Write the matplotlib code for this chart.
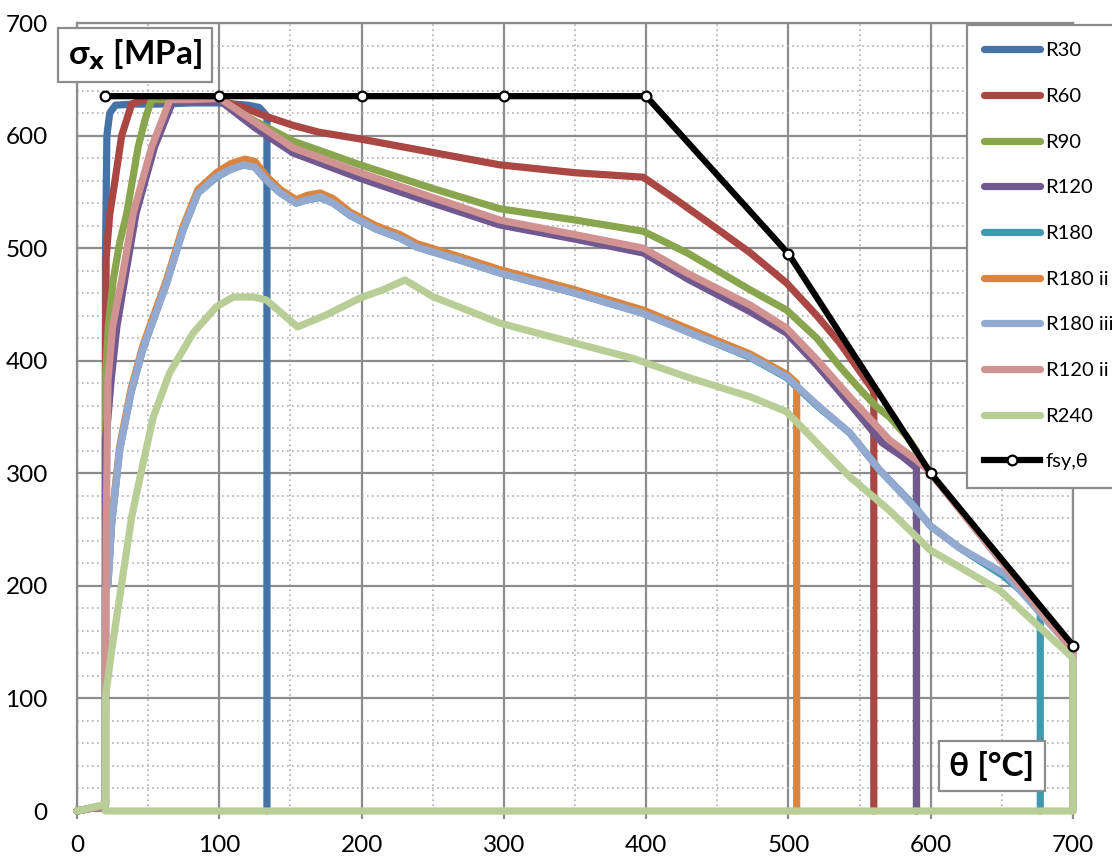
import numpy as np
import matplotlib
matplotlib.use('Agg')
import matplotlib.pyplot as plt
from matplotlib.ticker import MultipleLocator

plt.rcParams['font.family'] = ['Lato', 'DejaVu Sans']
plt.rcParams['mathtext.fontset'] = 'dejavusans'

# temperature [°C] / stress [MPa]
t_r30 = [0, 20, 20, 20, 21, 23, 27, 40, 60, 80, 100, 120, 128, 131, 133.5, 133.5]
s_r30 = [0, 5, 200, 490, 600, 620, 627, 628, 628, 629, 629, 627, 625, 621, 617, 0]

t_r60 = [0, 20, 20, 20.5, 23, 26.7, 31.4, 38.4, 45, 60, 80, 100.5, 115, 133, 152, 170, 199,
         250, 297, 350, 398, 420, 450, 473, 498.7, 520, 536, 559.4, 560, 560]
s_r60 = [0, 5, 420, 492, 530, 560, 600, 628, 631, 631, 631, 631, 626, 617, 609, 603, 597,
         585, 574, 567, 563, 544, 517, 496, 469, 440, 416, 374, 372, 0]

t_r90 = [0, 20, 20, 22, 25.5, 30, 35, 43, 48, 52.5, 70, 100, 125, 152, 199, 250, 297, 350,
         398, 430, 473, 498.7, 520, 536, 550, 562, 571, 583, 590, 590]
s_r90 = [0, 5, 385, 430, 472, 505, 531, 590, 615, 632, 632, 632, 613, 595, 574, 553, 535, 525,
         515, 495, 463, 445, 420, 395, 375, 359, 350, 333, 320, 0]

t_r120 = [0, 20, 20, 21.8, 24, 28, 33.5, 41.5, 54.5, 67.5, 80, 100.5, 125, 152, 199, 250, 297,
          350, 398, 430, 473, 498.7, 520, 543, 566, 580, 590, 590]
s_r120 = [0, 5, 330, 350, 383, 430, 472, 531, 590, 631, 631, 631, 607, 584.5, 562, 540, 520.6,
          508, 495.7, 472, 443.6, 424.6, 396, 362, 327, 315, 304.7, 0]

t_r180 = [0, 20, 20, 21.8, 24.4, 30, 38, 46, 51, 63, 74.5, 85, 98, 108, 117, 125, 133, 143, 154,
          162, 171, 180, 192, 210, 227, 238.7, 270, 297, 350, 398, 440, 473, 498.7, 520, 543,
          564, 587, 600, 620, 651, 665, 677, 677]
s_r180 = [0, 5, 196, 202, 256, 321, 372, 409, 427, 469, 516, 549, 563, 570, 574, 572, 560, 549,
          540, 543, 545, 540, 529, 517, 509, 501, 489, 478, 460, 442, 420, 403, 385, 360, 336,
          303, 273, 253, 234, 209, 194, 176, 0]

t_r180ii = [0, 20, 20, 21.8, 24.4, 30, 38, 46, 51, 63, 74.5, 85, 98, 108, 118, 125, 133, 143,
            154, 162, 171, 180, 192, 210, 227, 238.7, 270, 297, 350, 398, 440, 473, 498.7,
            505.8, 505.8]
s_r180ii = [0, 5, 196, 205, 259, 324, 375, 412, 430, 472, 519, 552, 567, 575, 579, 577, 564, 552,
            543, 547, 549, 544, 532, 520, 512, 504, 492, 481, 463, 445, 423, 406, 388, 380, 0]

t_r180iii = [0, 20, 20, 21.8, 24.4, 30, 38, 46, 51, 63, 74.5, 85, 98, 108, 117, 125, 133, 143,
             154, 162, 171, 180, 192, 210, 227, 238.7, 270, 297, 350, 398, 440, 473, 498.7,
             520, 543, 564, 587, 600, 620, 653, 700, 700]
s_r180iii = [0, 5, 196, 202, 256, 321, 372, 409.5, 427, 469, 516, 549, 563.5, 570, 574, 572,
             560.5, 549, 540, 543, 545.7, 540, 529.5, 517, 509, 501, 489, 478, 460, 442, 420,
             403.6, 385.8, 361, 336, 303, 272, 253, 234, 210, 143, 0]

t_r120ii = [0, 20, 20, 20.5, 21.8, 25, 31.4, 39.5, 52.5, 65.4, 80, 100.5, 125, 152, 199, 250,
            297, 350, 398, 430, 473, 498.7, 520, 543, 571, 590, 598, 650, 700, 700]
s_r120ii = [0, 5, 83, 250, 383, 430, 472, 531, 590, 632, 632, 633, 612, 589, 567, 545, 525, 512,
            500, 477, 449.5, 429, 401, 368, 329.6, 311.8, 303, 221, 142, 0]

t_r240 = [0, 20, 20, 24.4, 31.4, 38.4, 45.4, 53.6, 65, 81.6, 98, 109.8, 124, 133, 155, 175, 199,
          215, 230.5, 250, 297, 337, 391, 430, 473, 498.7, 543, 571, 599.5, 648.6, 699, 700,
          700, 20]
s_r240 = [0, 6, 101, 143, 202, 261, 303, 350, 389, 424.6, 448, 456.6, 456.6, 454, 430, 440.6,
          455.7, 463, 471.7, 457, 433.5, 420, 402, 385, 368, 354.7, 297, 267, 231.9, 196, 137,
          133, 0, 0]

t_fsy = [20, 100, 200, 300, 400, 500, 600, 700]
s_fsy = [635, 635, 635, 635, 635, 495, 300, 147]

series = [
    ('R30', t_r30, s_r30, '#4572A7'),
    ('R60', t_r60, s_r60, '#AA4643'),
    ('R90', t_r90, s_r90, '#89A54E'),
    ('R120', t_r120, s_r120, '#71588F'),
    ('R180', t_r180, s_r180, '#4198AF'),
    ('R180 ii', t_r180ii, s_r180ii, '#DB843D'),
    ('R180 iii', t_r180iii, s_r180iii, '#93A9CF'),
    ('R120 ii', t_r120ii, s_r120ii, '#D19392'),
    ('R240', t_r240, s_r240, '#B9CD96'),
]

fig = plt.figure(figsize=(11.12, 8.59), dpi=100)
ax = fig.add_axes([77/1112, 1-811/859, 996/1112, 788/859])

for i, (lab, t, s, c) in enumerate(series):
    ax.plot(t, s, color=c, lw=5.2, label=lab, solid_joinstyle='round',
            solid_capstyle='round', clip_on=False, zorder=3+i)
ax.plot(t_fsy, s_fsy, color='black', lw=4.5, marker='o', ms=7, mfc='white',
        mec='black', mew=1.6, label='fsy,θ', clip_on=False, zorder=20)

ax.set_xlim(0, 700)
ax.set_ylim(0, 700)
ax.xaxis.set_major_locator(MultipleLocator(100))
ax.yaxis.set_major_locator(MultipleLocator(100))
ax.xaxis.set_minor_locator(MultipleLocator(50))
ax.yaxis.set_minor_locator(MultipleLocator(20))
ax.set_axisbelow(True)
ax.grid(which='major', color='#8c8c8c', lw=1.6)
ax.grid(which='minor', color='#b0b0b0', lw=1.2, ls=(0, (1, 2)))
for sp in ax.spines.values():
    sp.set_color('#8c8c8c')
    sp.set_linewidth(1.6)
ax.tick_params(axis='x', which='major', length=6, width=1.6, color='#8c8c8c',
               pad=11, labelsize=17.5)
ax.tick_params(axis='y', which='major', length=0, pad=21, labelsize=17.5)
ax.tick_params(which='minor', length=0)

fig.text(135/1112, 1-55/859, 'σ$_{\\mathbf{x}}$ [MPa]', fontsize=24, fontweight='bold',
         ha='center', va='center',
         bbox=dict(boxstyle='square,pad=0.3', fc='white', ec='#8c8c8c', lw=1.6))
fig.text(992/1112, 1-766/859, 'θ [°C]', fontsize=24, fontweight='bold',
         ha='center', va='center',
         bbox=dict(boxstyle='square,pad=0.3', fc='white', ec='#8c8c8c', lw=1.6))

leg = ax.legend(loc='upper left', bbox_to_anchor=(967/1112, 1-25/859),
                bbox_transform=fig.transFigure, borderaxespad=0, fancybox=False,
                edgecolor='#8c8c8c', framealpha=1, fontsize=14.5, handlelength=2.75,
                labelspacing=1.42, handletextpad=0.3, borderpad=0.85)
leg.get_frame().set_linewidth(1.6)
leg.set_zorder(30)

plt.savefig('out.png', dpi=100)
